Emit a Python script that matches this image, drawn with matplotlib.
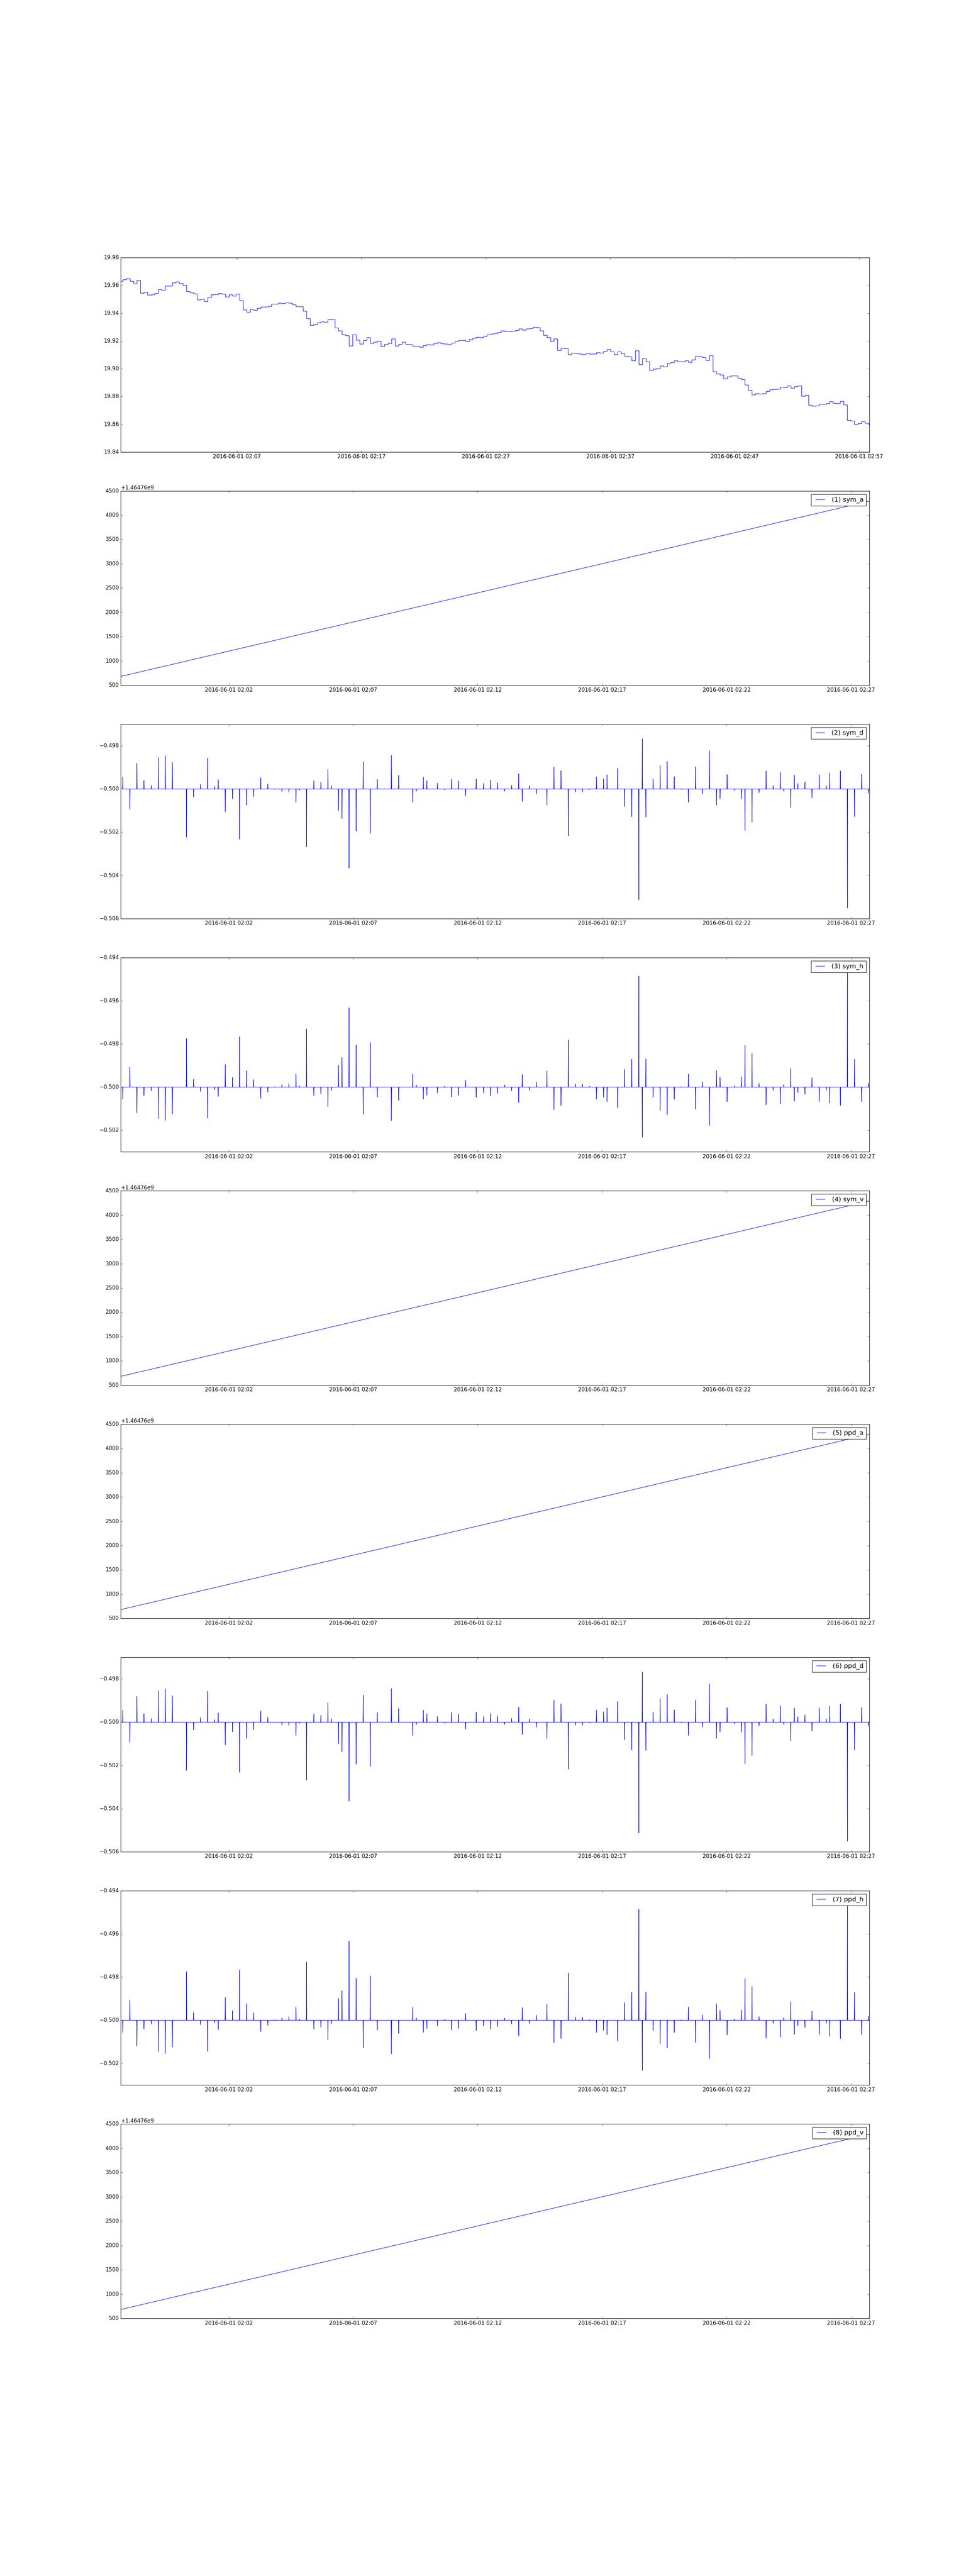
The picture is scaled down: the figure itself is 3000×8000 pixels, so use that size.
import numpy as np
import pandas as pd
import matplotlib
matplotlib.use("Agg")
import matplotlib.pyplot as plt
import matplotlib.dates as mdates

plt.style.use("classic")

# time window
t_start = pd.Timestamp("2016-06-01 01:57:39.5")
span_price = 3610   # seconds in the price panel
span_feat = 1805    # seconds in the feature panels

# price: one level every 17.04 s, first level starts just left of the axis
price_t0 = t_start - pd.Timedelta(seconds=6.8)
price_step = 17.04
price = [
    19.9631, 19.9642, 19.9650, 19.9631, 19.9613, 19.9637, 19.9545, 19.9553, 19.9530, 19.9533,
    19.9542, 19.9571, 19.9566, 19.9596, 19.9596, 19.9620, 19.9625, 19.9615, 19.9601, 19.9557,
    19.9547, 19.9541, 19.9497, 19.9502, 19.9485, 19.9514, 19.9534, 19.9536, 19.9543, 19.9537,
    19.9516, 19.9533, 19.9524, 19.9537, 19.9491, 19.9424, 19.9409, 19.9429, 19.9423, 19.9437,
    19.9446, 19.9446, 19.9451, 19.9467, 19.9467, 19.9472, 19.9470, 19.9476, 19.9472, 19.9461,
    19.9448, 19.9448, 19.9414, 19.9361, 19.9313, 19.9320, 19.9332, 19.9339, 19.9337, 19.9355,
    19.9357, 19.9294, 19.9274, 19.9246, 19.9238, 19.9165, 19.9246, 19.9207, 19.9178, 19.9203,
    19.9225, 19.9184, 19.9192, 19.9200, 19.9160, 19.9176, 19.9183, 19.9215, 19.9165, 19.9177,
    19.9192, 19.9177, 19.9174, 19.9161, 19.9160, 19.9156, 19.9168, 19.9175, 19.9171, 19.9184,
    19.9189, 19.9180, 19.9179, 19.9175, 19.9185, 19.9196, 19.9204, 19.9204, 19.9198, 19.9212,
    19.9220, 19.9228, 19.9226, 19.9231, 19.9245, 19.9251, 19.9254, 19.9261, 19.9273, 19.9270,
    19.9268, 19.9272, 19.9275, 19.9288, 19.9278, 19.9288, 19.9291, 19.9300, 19.9297, 19.9273,
    19.9242, 19.9226, 19.9194, 19.9215, 19.9133, 19.9149, 19.9146, 19.9102, 19.9114, 19.9111,
    19.9106, 19.9103, 19.9108, 19.9107, 19.9107, 19.9117, 19.9114, 19.9125, 19.9139, 19.9122,
    19.9103, 19.9123, 19.9108, 19.9091, 19.9086, 19.9059, 19.9131, 19.9030, 19.9075, 19.9050,
    19.8989, 19.8998, 19.9002, 19.9021, 19.9015, 19.9039, 19.9047, 19.9058, 19.9051, 19.9051,
    19.9059, 19.9047, 19.9066, 19.9087, 19.9087, 19.9082, 19.9061, 19.9096, 19.8979, 19.8964,
    19.8955, 19.8928, 19.8942, 19.8950, 19.8948, 19.8933, 19.8923, 19.8885, 19.8844, 19.8813,
    19.8822, 19.8819, 19.8821, 19.8837, 19.8849, 19.8852, 19.8853, 19.8868, 19.8866, 19.8877,
    19.8860, 19.8872, 19.8877, 19.8804, 19.8810, 19.8738, 19.8730, 19.8733, 19.8746, 19.8746,
    19.8749, 19.8764, 19.8753, 19.8750, 19.8765, 19.8741, 19.8630, 19.8625, 19.8600, 19.8607,
    19.8620, 19.8609, 19.8604,
]

# feature events: slot number on an 8.52 s grid that starts 5.12 s after t_start
event_first = 5.12
event_step = 8.521
event_slot = [
    0, 2, 4, 6, 8, 10, 12, 14, 18, 20, 22, 24, 26, 27, 29, 31, 33, 35, 37, 39,
    41, 43, 45, 47, 49, 50, 52, 54, 56, 58, 59, 61, 62, 64, 66, 68, 70, 72, 76, 78,
    82, 83, 85, 86, 89, 91, 93, 95, 97, 100, 102, 104, 106, 108, 110, 112, 113, 115, 117, 120,
    122, 124, 126, 128, 130, 132, 134, 136, 137, 140, 142, 144, 146, 147, 148, 150, 152, 154, 156, 158,
    160, 162, 164, 166, 168, 169, 171, 173, 175, 176, 178, 180, 182, 184, 186, 187, 189, 190, 191, 193,
    195, 197, 199, 200, 203, 205, 207, 209, 211,
]
baseline = -0.5

sym_d = [
    -0.49944, -0.50093, -0.49881, -0.49961, -0.49983, -0.49854, -0.49846, -0.49877, -0.50223, -0.50036,
    -0.49979, -0.49857, -0.49988, -0.49957, -0.50105, -0.50045, -0.50232, -0.50075, -0.50035, -0.49948,
    -0.49977, -0.50002, -0.50012, -0.50015, -0.50061, -0.50005, -0.50268, -0.49961, -0.49968, -0.49909,
    -0.49984, -0.50100, -0.50137, -0.50366, -0.50194, -0.49874, -0.50205, -0.49955, -0.49844, -0.49937,
    -0.50061, -0.50010, -0.49945, -0.49961, -0.49973, -0.50004, -0.49955, -0.49963, -0.50031, -0.49954,
    -0.49974, -0.49959, -0.49971, -0.50010, -0.49983, -0.49930, -0.50057, -0.49985, -0.50023, -0.50075,
    -0.49897, -0.49915, -0.50217, -0.50014, -0.50014, -0.50003, -0.49944, -0.49952, -0.49934, -0.49905,
    -0.50081, -0.50128, -0.50513, -0.49768, -0.50130, -0.49954, -0.49891, -0.49872, -0.49943, -0.50002,
    -0.50061, -0.49897, -0.50023, -0.49823, -0.50075, -0.50045, -0.49933, -0.50006, -0.50046, -0.50192,
    -0.50154, -0.50017, -0.49917, -0.49985, -0.49923, -0.50010, -0.50086, -0.49935, -0.49975, -0.49967,
    -0.50041, -0.49934, -0.49985, -0.49926, -0.49916, -0.50551, -0.50128, -0.49932, -0.50019,
]

sym_h = [
    -0.50056, -0.49907, -0.50119, -0.50039, -0.50017, -0.50146, -0.50154, -0.50124, -0.49775, -0.49964,
    -0.50020, -0.50143, -0.50012, -0.50043, -0.49895, -0.49955, -0.49767, -0.49924, -0.49965, -0.50052,
    -0.50023, -0.49998, -0.49988, -0.49984, -0.49939, -0.49995, -0.49731, -0.50040, -0.50032, -0.50091,
    -0.50016, -0.49899, -0.49863, -0.49633, -0.49805, -0.50126, -0.49794, -0.50046, -0.50155, -0.50061,
    -0.49939, -0.49990, -0.50056, -0.50038, -0.50027, -0.49996, -0.50045, -0.50038, -0.49969, -0.50047,
    -0.50027, -0.50041, -0.50029, -0.49990, -0.50017, -0.50071, -0.49942, -0.50015, -0.49977, -0.49925,
    -0.50104, -0.50085, -0.49781, -0.49985, -0.49985, -0.49996, -0.50056, -0.50047, -0.50067, -0.50095,
    -0.49918, -0.49871, -0.49486, -0.50232, -0.49869, -0.50047, -0.50109, -0.50127, -0.50056, -0.49998,
    -0.49939, -0.50102, -0.49975, -0.50177, -0.49924, -0.49954, -0.50067, -0.49994, -0.49952, -0.49806,
    -0.49844, -0.49983, -0.50082, -0.50014, -0.50077, -0.49988, -0.49914, -0.50065, -0.50025, -0.50033,
    -0.49957, -0.50066, -0.50014, -0.50074, -0.50085, -0.49449, -0.49871, -0.50067, -0.49981,
]

# timestamp-like columns: a straight line between these ends
sym_a = [1464760683, 1464764290]
sym_v = [1464760683, 1464764290]
ppd_a = [1464760683, 1464764290]
ppd_v = [1464760683, 1464764290]
# ppd_d / ppd_h draw the same as sym_d / sym_h
ppd_d = list(sym_d)
ppd_h = list(sym_h)

labels = ["sym_a", "sym_d", "sym_h", "sym_v", "ppd_a", "ppd_d", "ppd_h", "ppd_v"]
series = [sym_a, sym_d, sym_h, sym_v, ppd_a, ppd_d, ppd_h, ppd_v]

# dense 0.5 s grid for the feature panels
grid = pd.date_range(t_start, periods=2 * span_feat + 1, freq="500ms")
event_idx = np.round((event_first + event_step * np.array(event_slot)) / 0.5).astype(int)


def spike_series(vals):
    y = np.full(len(grid), baseline)
    y[event_idx] = vals
    return y


fig, axes = plt.subplots(9, 1, figsize=(30, 80))
fmt = mdates.DateFormatter("%Y-%m-%d %H:%M")

# price panel
ax = axes[0]
price_times = pd.date_range(price_t0, periods=len(price) + 1,
                            freq=pd.Timedelta(seconds=price_step))
ax.plot(price_times, price + [price[-1]], color="b", drawstyle="steps-post")
ax.set_xlim(t_start, t_start + pd.Timedelta(seconds=span_price))
ax.set_ylim(19.84, 19.98)
ax.ticklabel_format(axis="y", useOffset=False)
ax.xaxis.set_major_locator(mdates.MinuteLocator(byminute=range(7, 60, 10)))
ax.xaxis.set_major_formatter(fmt)

t_end = t_start + pd.Timedelta(seconds=span_feat)
for i, (name, vals) in enumerate(zip(labels, series)):
    ax = axes[i + 1]
    lab = "(%d) %s" % (i + 1, name)
    if len(vals) == 2:
        ax.plot([t_start, t_end], vals, color="b", label=lab)
        ax.set_ylim(500 + 1.46476e9, 4500 + 1.46476e9)
        ax.yaxis.get_major_formatter().set_useOffset(1.46476e9)
    else:
        ax.plot(grid, spike_series(vals), color="b", label=lab)
        ax.ticklabel_format(axis="y", useOffset=False)
        if name.endswith("_d"):
            ax.set_ylim(-0.506, -0.497)
            ax.set_yticks([-0.506, -0.504, -0.502, -0.500, -0.498])
        else:
            ax.set_ylim(-0.503, -0.494)
            ax.set_yticks([-0.502, -0.500, -0.498, -0.496, -0.494])
    ax.set_xlim(t_start, t_end)
    ax.xaxis.set_major_locator(mdates.MinuteLocator(byminute=range(2, 60, 5)))
    ax.xaxis.set_major_formatter(fmt)
    ax.legend(loc="upper right")

fig.savefig("out.png", dpi=100)
